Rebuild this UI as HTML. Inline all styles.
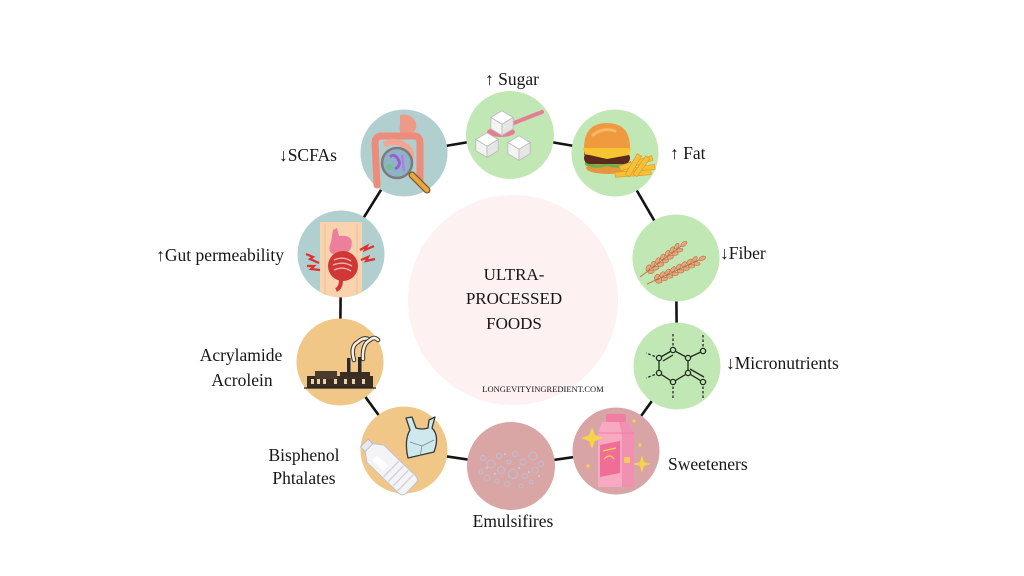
<!DOCTYPE html>
<html><head><meta charset="utf-8"><style>
html,body{margin:0;padding:0;background:#fff;}
svg{display:block;}
text{font-family:"Liberation Serif","DejaVu Serif",serif;fill:#161616;}
</style></head><body>
<svg width="1024" height="576" viewBox="0 0 1024 576" xmlns="http://www.w3.org/2000/svg">
<defs>
<clipPath id="cg"><circle cx="0" cy="0" r="43.5"/></clipPath>
</defs>
<rect width="1024" height="576" fill="#fff"/>
<!-- center circle -->
<circle cx="513" cy="300" r="105" fill="#fdf1f1"/>
<!-- connectors -->
<g stroke="#141414" stroke-width="2.6" fill="none" stroke-linecap="round">
<polyline points="510,135 615,153 676,258 677,366 616,451 511,466 404,450 340,362 341,254 404,153 510,135"/>
</g>
<!-- circles -->
<circle cx="510" cy="135" r="44" fill="#c1e8b4"/>
<circle cx="615" cy="153" r="43.5" fill="#c1e8b4"/>
<circle cx="676" cy="258" r="43.5" fill="#c1e8b4"/>
<circle cx="677" cy="366" r="43.5" fill="#c1e8b4"/>
<circle cx="616" cy="451" r="43.5" fill="#d8a4a5"/>
<circle cx="511" cy="466" r="44" fill="#d9a5a5"/>
<circle cx="404" cy="450" r="43.5" fill="#f1c788"/>
<circle cx="340" cy="362" r="43.5" fill="#f1c788"/>
<circle cx="341" cy="254" r="43.5" fill="#b2cfd0"/>
<circle cx="404" cy="153" r="43.5" fill="#b2cfd0"/>

<!-- Sugar icon -->
<g transform="translate(510,135)">
 <line x1="-4" y1="-9" x2="32" y2="-23" stroke="#e77d93" stroke-width="4" stroke-linecap="round"/>
 <ellipse cx="-9" cy="-3" rx="14" ry="5" fill="#e77d93"/>
 <g transform="translate(-8,-13) scale(1.12)">
  <polygon points="-10,-4 0,-10 10,-4 0,2" fill="#fff" stroke="#bdbdbd" stroke-width="0.8"/>
  <polygon points="-10,-4 0,2 0,12 -10,6" fill="#f3f3f3" stroke="#bdbdbd" stroke-width="0.8"/>
  <polygon points="0,2 10,-4 10,6 0,12" fill="#e6e6e6" stroke="#bdbdbd" stroke-width="0.8"/>
 </g>
 <g transform="translate(-23,9) scale(1.12)">
  <polygon points="-10,-4 0,-10 10,-4 0,2" fill="#fff" stroke="#bdbdbd" stroke-width="0.8"/>
  <polygon points="-10,-4 0,2 0,12 -10,6" fill="#f3f3f3" stroke="#bdbdbd" stroke-width="0.8"/>
  <polygon points="0,2 10,-4 10,6 0,12" fill="#e6e6e6" stroke="#bdbdbd" stroke-width="0.8"/>
 </g>
 <g transform="translate(9,12) scale(1.12)">
  <polygon points="-10,-4 0,-10 10,-4 0,2" fill="#fff" stroke="#bdbdbd" stroke-width="0.8"/>
  <polygon points="-10,-4 0,2 0,12 -10,6" fill="#f3f3f3" stroke="#bdbdbd" stroke-width="0.8"/>
  <polygon points="0,2 10,-4 10,6 0,12" fill="#e6e6e6" stroke="#bdbdbd" stroke-width="0.8"/>
 </g>
</g>

<!-- Burger icon -->
<g transform="translate(615,153)">
 <ellipse cx="-7" cy="15" rx="22" ry="6" fill="#e8963e"/>
 <path d="M-30,8 Q-20,14 -8,10 Q4,14 16,8 L16,12 Q4,17 -8,13 Q-20,17 -30,12Z" fill="#6bb04a"/>
 <rect x="-31" y="-1" width="46" height="12" rx="6" fill="#5b2a1c"/>
 <rect x="-31" y="-3" width="10" height="5" fill="#d8402b"/>
 <polygon points="-32,-5 16,-5 14,2 -8,6 -30,1" fill="#f7c531"/>
 <path d="M-31,-5 Q-31,-30 -8,-30 Q15,-30 15,-5Z" fill="#f09a40"/>
 <path d="M-22,-18 Q-12,-26 0,-22" stroke="#f7b868" stroke-width="3" fill="none" stroke-linecap="round"/>
 <g fill="#f6c03b" stroke="#de9e22" stroke-width="0.7">
  <rect x="4" y="8" width="34" height="5" transform="rotate(-18 20 10)"/>
  <rect x="8" y="14" width="32" height="5" transform="rotate(-10 24 16)"/>
  <rect x="0" y="18" width="36" height="5" transform="rotate(-4 18 20)"/>
  <rect x="16" y="0" width="5" height="24" transform="rotate(30 18 12)"/>
  <rect x="24" y="2" width="5" height="22" transform="rotate(35 26 13)"/>
 </g>
</g>

<!-- SCFAs icon -->
<g transform="translate(404,153)">
 <path d="M-4,-38 Q8,-40 12,-30 Q14,-20 2,-18 Q-6,-18 -4,-28Z" fill="#ee9a88"/>
 <path d="M-27,32 L-29,-10 Q-29,-17 -22,-17 L10,-17 Q16,-17 16,-10 L16,28" stroke="#ec8c7a" stroke-width="7" fill="none" stroke-linecap="round"/>
 <path d="M-20,-8 Q-10,-14 0,-8 Q10,-2 6,8 Q0,18 -10,22" stroke="#f2a593" stroke-width="6" fill="none"/>
 <circle cx="-7" cy="10" r="15" fill="#8fb3c6" stroke="#7b7b7b" stroke-width="2.5"/>
 <path d="M-14,4 Q-10,0 -6,6 Q-2,12 -9,16" stroke="#9a5fcf" stroke-width="3" fill="none"/>
 <path d="M-2,2 L0,18" stroke="#b07fe0" stroke-width="2.5"/>
 <circle cx="-15" cy="14" r="3" fill="#6fc08a"/>
 <line x1="8" y1="22" x2="23" y2="37" stroke="#7a5a2a" stroke-width="7" stroke-linecap="round"/>
 <line x1="8" y1="22" x2="23" y2="37" stroke="#eaa540" stroke-width="4.5" stroke-linecap="round"/>
</g>

<!-- Gut icon -->
<g transform="translate(341,254)">
 <g clip-path="url(#cg)">
  <rect x="-21" y="-32" width="42" height="80" fill="#f9d3ae"/>
  <line x1="-16" y1="-30" x2="-16" y2="45" stroke="#f0bf96" stroke-width="1"/>
  <line x1="16" y1="-30" x2="16" y2="45" stroke="#f0bf96" stroke-width="1"/>
 </g>
 <path d="M-4,-26 L-2,-18 Q14,-20 10,-6 Q6,2 -8,0 Q-14,-2 -10,-12 L-8,-24Z" fill="#ec7f9c"/>
 <circle cx="2" cy="12" r="15" fill="#d03838"/>
 <g stroke="#f4b0b0" stroke-width="1.4" fill="none">
  <path d="M-7,6 Q2,2 10,7"/><path d="M-8,11 Q2,7 11,12"/><path d="M-7,16 Q2,12 10,17"/>
 </g>
 <path d="M0,26 Q0,34 -5,36" stroke="#d03838" stroke-width="4" fill="none"/>
 <g stroke="#e03030" stroke-width="2.2" fill="none" stroke-linejoin="miter">
  <polyline points="-35,0 -28,3 -31,5 -22,9"/>
  <polyline points="-34,12 -27,12 -30,15 -21,16"/>
  <polyline points="19,-4 26,-8 24,-4 33,-8"/>
  <polyline points="20,6 27,3 25,7 34,5"/>
 </g>
</g>

<!-- Factory icon -->
<g transform="translate(340,362)">
 <path d="M14,-2 Q10,-16 18,-20 Q24,-26 30,-22" stroke="#333" stroke-width="4.5" fill="none" stroke-linecap="round"/>
 <path d="M14,-2 Q10,-16 18,-20 Q24,-26 30,-22" stroke="#f7eee0" stroke-width="2.5" fill="none" stroke-linecap="round"/>
 <path d="M23,-3 Q22,-18 30,-22 Q34,-26 38,-22" stroke="#333" stroke-width="4.5" fill="none" stroke-linecap="round"/>
 <path d="M23,-3 Q22,-18 30,-22 Q34,-26 38,-22" stroke="#f7eee0" stroke-width="2.5" fill="none" stroke-linecap="round"/>
 <rect x="7" y="-4" width="3.5" height="16" fill="#2a2a2a"/>
 <rect x="18" y="-5" width="3.5" height="17" fill="#2a2a2a"/>
 <rect x="-33" y="14" width="66" height="12" fill="#3a2e22"/>
 <rect x="-25" y="9" width="22" height="8" fill="#4a3b2c"/>
 <rect x="0" y="10" width="30" height="6" fill="#3a2e22"/>
 <g fill="#e8d3b0">
  <rect x="-29" y="17" width="3" height="5"/><rect x="-23" y="17" width="3" height="5"/><rect x="-17" y="17" width="3" height="5"/>
  <rect x="-6" y="17" width="3" height="5"/><rect x="4" y="17" width="3" height="5"/><rect x="12" y="17" width="3" height="5"/><rect x="22" y="17" width="3" height="5"/>
 </g>
 <line x1="-36" y1="26" x2="36" y2="26" stroke="#222" stroke-width="1.2"/>
</g>

<!-- Fiber icon -->
<g transform="translate(676,258)">
 <g transform="translate(-28,13) rotate(-37)">
  <line x1="-10" y1="0" x2="48" y2="0" stroke="#b8744a" stroke-width="1"/>
  <g fill="#eaa67a" stroke="#b86f48" stroke-width="0.6">
   <ellipse cx="2" cy="-2.5" rx="3.2" ry="1.8" transform="rotate(-25 2 -2.5)"/><ellipse cx="2" cy="2.5" rx="3.2" ry="1.8" transform="rotate(25 2 2.5)"/>
   <ellipse cx="8" cy="-2.5" rx="3.2" ry="1.8" transform="rotate(-25 8 -2.5)"/><ellipse cx="8" cy="2.5" rx="3.2" ry="1.8" transform="rotate(25 8 2.5)"/>
   <ellipse cx="14" cy="-2.5" rx="3.2" ry="1.8" transform="rotate(-25 14 -2.5)"/><ellipse cx="14" cy="2.5" rx="3.2" ry="1.8" transform="rotate(25 14 2.5)"/>
   <ellipse cx="20" cy="-2.5" rx="3.2" ry="1.8" transform="rotate(-25 20 -2.5)"/><ellipse cx="20" cy="2.5" rx="3.2" ry="1.8" transform="rotate(25 20 2.5)"/>
   <ellipse cx="26" cy="-2.5" rx="3.2" ry="1.8" transform="rotate(-25 26 -2.5)"/><ellipse cx="26" cy="2.5" rx="3.2" ry="1.8" transform="rotate(25 26 2.5)"/>
   <ellipse cx="32" cy="-2.5" rx="3.2" ry="1.8" transform="rotate(-25 32 -2.5)"/><ellipse cx="32" cy="2.5" rx="3.2" ry="1.8" transform="rotate(25 32 2.5)"/>
   <ellipse cx="38" cy="-2.5" rx="3.2" ry="1.8" transform="rotate(-25 38 -2.5)"/><ellipse cx="38" cy="2.5" rx="3.2" ry="1.8" transform="rotate(25 38 2.5)"/>
   <ellipse cx="45" cy="0" rx="3.5" ry="2"/>
  </g>
 </g>
 <g transform="translate(-20,22) rotate(-25)">
  <line x1="-10" y1="0" x2="55" y2="0" stroke="#b8744a" stroke-width="1"/>
  <g fill="#eaa67a" stroke="#b86f48" stroke-width="0.6">
   <ellipse cx="2" cy="-2.5" rx="3.2" ry="1.8" transform="rotate(-25 2 -2.5)"/><ellipse cx="2" cy="2.5" rx="3.2" ry="1.8" transform="rotate(25 2 2.5)"/>
   <ellipse cx="8" cy="-2.5" rx="3.2" ry="1.8" transform="rotate(-25 8 -2.5)"/><ellipse cx="8" cy="2.5" rx="3.2" ry="1.8" transform="rotate(25 8 2.5)"/>
   <ellipse cx="14" cy="-2.5" rx="3.2" ry="1.8" transform="rotate(-25 14 -2.5)"/><ellipse cx="14" cy="2.5" rx="3.2" ry="1.8" transform="rotate(25 14 2.5)"/>
   <ellipse cx="20" cy="-2.5" rx="3.2" ry="1.8" transform="rotate(-25 20 -2.5)"/><ellipse cx="20" cy="2.5" rx="3.2" ry="1.8" transform="rotate(25 20 2.5)"/>
   <ellipse cx="26" cy="-2.5" rx="3.2" ry="1.8" transform="rotate(-25 26 -2.5)"/><ellipse cx="26" cy="2.5" rx="3.2" ry="1.8" transform="rotate(25 26 2.5)"/>
   <ellipse cx="32" cy="-2.5" rx="3.2" ry="1.8" transform="rotate(-25 32 -2.5)"/><ellipse cx="32" cy="2.5" rx="3.2" ry="1.8" transform="rotate(25 32 2.5)"/>
   <ellipse cx="38" cy="-2.5" rx="3.2" ry="1.8" transform="rotate(-25 38 -2.5)"/><ellipse cx="38" cy="2.5" rx="3.2" ry="1.8" transform="rotate(25 38 2.5)"/>
   <ellipse cx="44" cy="-2.5" rx="3.2" ry="1.8" transform="rotate(-25 44 -2.5)"/><ellipse cx="44" cy="2.5" rx="3.2" ry="1.8" transform="rotate(25 44 2.5)"/>
   <ellipse cx="51" cy="0" rx="3.5" ry="2"/>
  </g>
 </g>
</g>

<!-- Micronutrients icon -->
<g transform="translate(677,366)" stroke="#1f2a1f" fill="none" stroke-width="1.3">
 <polygon points="-18,-8 -4,-16 11,-8 11,7 -4,16 -18,7"/>
 <line x1="-14" y1="-5" x2="-4" y2="-11"/>
 <line x1="11" y1="-8" x2="26" y2="-15"/>
 <line x1="11" y1="7" x2="26" y2="16"/>
 <line x1="13" y1="3" x2="27" y2="11"/>
 <g stroke-dasharray="2.5 2">
  <line x1="-4" y1="-16" x2="-4" y2="-32"/>
  <line x1="-4" y1="16" x2="-4" y2="32"/>
  <line x1="26" y1="-15" x2="26" y2="-32"/>
  <line x1="26" y1="16" x2="26" y2="32"/>
  <line x1="-18" y1="-8" x2="-31" y2="-13"/>
  <line x1="-18" y1="7" x2="-31" y2="12"/>
 </g>
 <g fill="#c1e8b4">
  <circle cx="-18" cy="-8" r="2.6"/><circle cx="-4" cy="-16" r="2.6"/><circle cx="11" cy="-8" r="2.6"/>
  <circle cx="11" cy="7" r="2.6"/><circle cx="-4" cy="16" r="2.6"/><circle cx="-18" cy="7" r="2.6"/>
  <circle cx="26" cy="-15" r="2.6"/><circle cx="26" cy="16" r="2.6"/>
 </g>
</g>

<!-- Sweeteners icon -->
<g transform="translate(616,451)">
 <rect x="-10" y="-37" width="20" height="8" rx="2" fill="#f07ea2"/>
 <path d="M-14,-29 L12,-29 L18,-18 L18,36 L-18,36 L-18,-18Z" fill="#f7a9c2"/>
 <path d="M3,-29 L12,-29 L18,-18 L18,36 L6,36 L6,-18Z" fill="#f290b3"/>
 <line x1="-18" y1="-18" x2="18" y2="-18" stroke="#f07ea2" stroke-width="1"/>
 <path d="M-16,-6 L4,-10 L4,22 L-16,26Z" fill="#f06d98"/>
 <path d="M-13,0 L0,-3 M-12,8 Q-6,2 -2,8" stroke="#f7d84a" stroke-width="1.2" fill="none"/>
 <rect x="8" y="6" width="6" height="6" fill="#f7d84a" opacity="0.8"/>
 <path d="M-24,-24 L-21,-16 L-13,-13 L-21,-10 L-24,-2 L-27,-10 L-35,-13 L-27,-16Z" fill="#f6d34a"/>
 <path d="M26,4 L28,11 L35,13 L28,15 L26,22 L24,15 L17,13 L24,11Z" fill="#f6d34a"/>
 <circle cx="-28" cy="15" r="1.6" fill="#f6d34a"/>
 <circle cx="24" cy="-6" r="1.6" fill="#f6d34a"/>
 <circle cx="18" cy="-30" r="1.6" fill="#f6d34a"/>
</g>

<!-- Emulsifires icon -->
<g transform="translate(511,466)" stroke="#bcbfd0" stroke-width="1" fill="none">
 <circle cx="-28" cy="-8" r="2.5"/><circle cx="-20" cy="-2" r="4"/><circle cx="-30" cy="6" r="2"/>
 <circle cx="-24" cy="12" r="3"/><circle cx="-12" cy="-10" r="2.5"/><circle cx="-10" cy="4" r="3.5"/>
 <circle cx="-14" cy="15" r="2"/><circle cx="-2" cy="-4" r="2"/><circle cx="2" cy="8" r="4.5"/>
 <circle cx="4" cy="-12" r="2.5"/><circle cx="-4" cy="18" r="2.5"/><circle cx="12" cy="-4" r="3"/>
 <circle cx="14" cy="10" r="2.5"/><circle cx="22" cy="-10" r="4"/><circle cx="24" cy="4" r="3"/>
 <circle cx="20" cy="16" r="2"/><circle cx="30" cy="-2" r="2.5"/><circle cx="10" cy="20" r="2"/>
 <g fill="#c4c7d6" stroke="none">
  <circle cx="-24" cy="2" r="1.2"/><circle cx="-6" cy="-12" r="1.2"/><circle cx="8" cy="2" r="1.2"/>
  <circle cx="18" cy="6" r="1.2"/><circle cx="-16" cy="8" r="1.2"/><circle cx="28" cy="10" r="1.2"/>
 </g>
</g>

<!-- Bisphenol icon -->
<g transform="translate(404,450)">
 <g transform="translate(-16,16) rotate(-46) scale(1.1)">
  <rect x="-5" y="-30" width="10" height="6" fill="#e8e8ee" stroke="#b8b8c4" stroke-width="0.8"/>
  <path d="M-5,-24 L5,-24 L11,-16 L11,24 Q11,29 6,29 L-6,29 Q-11,29 -11,24 L-11,-16Z" fill="#f4f4f7" stroke="#c2c2cc" stroke-width="0.9"/>
  <g stroke="#d0d0d8" stroke-width="1.2">
   <line x1="-10" y1="4" x2="10" y2="4"/><line x1="-10" y1="10" x2="10" y2="10"/><line x1="-10" y1="16" x2="10" y2="16"/><line x1="-10" y1="22" x2="10" y2="22"/>
  </g>
  <rect x="-6" y="-14" width="6" height="14" fill="#ffffff" opacity="0.9"/>
 </g>
 <path d="M2,-32 L6,-20 Q0,-10 4,8 L30,2 Q36,-14 28,-22 L31,-33 L25,-30 L24,-22 Q18,-20 12,-22 L8,-33Z" fill="#cfe8ee" stroke="#2f3a3c" stroke-width="1.3" stroke-linejoin="round"/>
 <path d="M6,-8 L18,-4 L30,-10 M18,-4 L16,6" stroke="#6a8a90" stroke-width="0.7" fill="none"/>
</g>

<!-- Labels -->
<g font-size="17.5">
 <text x="512" y="85" text-anchor="middle">↑ Sugar</text>
 <text x="670" y="159">↑ Fat</text>
 <text x="337" y="161" text-anchor="end">↓SCFAs</text>
 <text x="284" y="261" text-anchor="end">↑Gut permeability</text>
 <text x="241" y="361" text-anchor="middle">Acrylamide</text>
 <text x="242" y="386" text-anchor="middle">Acrolein</text>
 <text x="720" y="259">↓Fiber</text>
 <text x="726" y="369">↓Micronutrients</text>
 <text x="304" y="461" text-anchor="middle">Bisphenol</text>
 <text x="304" y="484" text-anchor="middle">Phtalates</text>
 <text x="513" y="527" text-anchor="middle">Emulsifires</text>
 <text x="668" y="470">Sweeteners</text>
</g>
<g font-size="17" text-anchor="middle">
 <text x="514" y="280">ULTRA-</text>
 <text x="514" y="304">PROCESSED</text>
 <text x="514" y="329">FOODS</text>
</g>
<text x="543" y="392" font-size="8.5" text-anchor="middle">LONGEVITYINGREDIENT.COM</text>
</svg>
</body></html>
